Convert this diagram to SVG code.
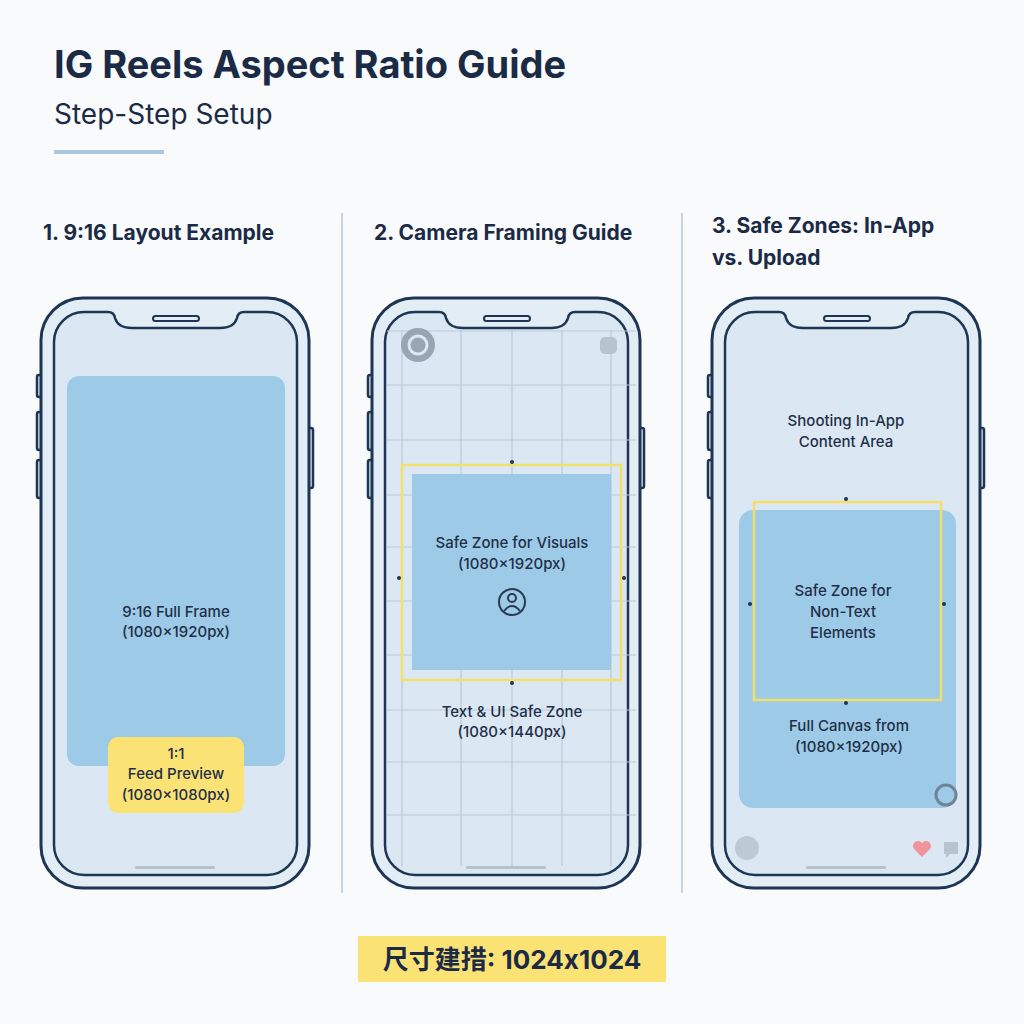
<svg xmlns="http://www.w3.org/2000/svg" xmlns:xlink="http://www.w3.org/1999/xlink" width="1024" height="1024" viewBox="0 0 1024 1024">
<style>
.t{font-family:Inter,"Liberation Sans","Noto Sans CJK SC",sans-serif;fill:#1b2b45}
.lbl{font-family:Inter,"Liberation Sans",sans-serif;font-size:15px;font-weight:500;fill:#1f2f48;text-anchor:middle}
.h{font-size:21px;font-weight:700}
.grid{stroke:#b9cad8;stroke-width:1.2}
.dot{fill:#1e3553}
</style>
<defs>
<g id="phone">
<rect x="37" y="375" width="5" height="22" rx="2" fill="#dce9f4" stroke="#1e3553" stroke-width="2.5"/>
<rect x="37" y="412" width="5" height="38" rx="2" fill="#dce9f4" stroke="#1e3553" stroke-width="2.5"/>
<rect x="37" y="460" width="5" height="38" rx="2" fill="#dce9f4" stroke="#1e3553" stroke-width="2.5"/>
<rect x="308" y="428" width="5" height="60" rx="2" fill="#dce9f4" stroke="#1e3553" stroke-width="2.5"/>
<rect x="41" y="298" width="268" height="590" rx="42" fill="#e3edf6" stroke="#1e3553" stroke-width="3"/>
<path d="M84 312 H108 Q114 312 115 318 Q118 328 132 328 H220 Q234 328 237 318 Q238 312 244 312 H267 A30 30 0 0 1 297 342 V845 A30 30 0 0 1 267 875 H84 A30 30 0 0 1 54 845 V342 A30 30 0 0 1 84 312 Z" fill="#dbe8f3" stroke="#1e3553" stroke-width="2.5"/>
<rect x="153" y="316" width="46" height="5" rx="2.5" fill="none" stroke="#1e3553" stroke-width="2"/>
<rect x="135" y="866" width="80" height="3" rx="1.5" fill="#b4c2cf"/>
</g>
</defs>
<rect width="1024" height="1024" fill="#f8fafc"/>
<text class="t" x="54" y="78" font-size="38" font-weight="700">IG Reels Aspect Ratio Guide</text>
<text class="t" x="54" y="124" font-size="28" font-weight="400" fill="#2a3a52">Step-Step Setup</text>
<rect x="54" y="150" width="110" height="4" fill="#a9c8e0"/>
<g id="dividers" stroke="#b7c9d8" stroke-width="1.5">
<line x1="342" y1="213" x2="342" y2="893"/>
<line x1="682" y1="213" x2="682" y2="893"/>
</g>
<text class="t h" x="43" y="240">1. 9:16 Layout Example</text>
<text class="t h" x="374" y="240">2. Camera Framing Guide</text>
<text class="t h" x="712" y="233">3. Safe Zones: In-App</text>
<text class="t h" x="712" y="265">vs. Upload</text>

<g id="phone1">
<use xlink:href="#phone"/>
<rect x="67" y="376" width="218" height="390" rx="12" fill="#9dcae6"/>
<text class="lbl" x="176" y="617">9:16 Full Frame</text>
<text class="lbl" x="176" y="637">(1080x1920px)</text>
<rect x="108" y="737" width="136" height="76" rx="10" fill="#fbe275"/>
<text class="lbl" x="176" y="759">1:1</text>
<text class="lbl" x="176" y="779">Feed Preview</text>
<text class="lbl" x="176" y="800">(1080x1080px)</text>
</g>

<g id="phone2">
<use xlink:href="#phone" transform="translate(331 0)"/>
<g class="grid">
<line x1="402" y1="330" x2="402" y2="866"/><line x1="461" y1="330" x2="461" y2="866"/><line x1="512" y1="330" x2="512" y2="866"/><line x1="562" y1="330" x2="562" y2="866"/><line x1="611" y1="330" x2="611" y2="866"/>
<line x1="387" y1="331" x2="636" y2="331"/><line x1="387" y1="385" x2="636" y2="385"/><line x1="387" y1="440" x2="636" y2="440"/><line x1="387" y1="495" x2="636" y2="495"/><line x1="387" y1="547" x2="636" y2="547"/><line x1="387" y1="601" x2="636" y2="601"/><line x1="387" y1="655" x2="636" y2="655"/><line x1="387" y1="710" x2="636" y2="710"/><line x1="387" y1="762" x2="636" y2="762"/><line x1="387" y1="815" x2="636" y2="815"/>
</g>
<circle cx="418" cy="345" r="17" fill="#98a6b3"/>
<circle cx="418" cy="345" r="9" fill="none" stroke="#dbe8f3" stroke-width="3"/>
<rect x="600" y="337" width="17" height="17" rx="5" fill="#b7c3cd"/>
<rect x="402" y="465" width="219" height="215" fill="none" stroke="#f4df6a" stroke-width="2.5"/>
<rect x="412" y="474" width="199" height="196" fill="#9dcae6"/>
<circle class="dot" cx="512" cy="462" r="2"/><circle class="dot" cx="399" cy="578" r="2"/><circle class="dot" cx="624" cy="578" r="2"/><circle class="dot" cx="512" cy="683" r="2"/>
<text class="lbl" x="512" y="548">Safe Zone for Visuals</text>
<text class="lbl" x="512" y="569">(1080x1920px)</text>
<circle cx="512" cy="602" r="13" fill="none" stroke="#2a3a52" stroke-width="2"/>
<circle cx="512" cy="598" r="4" fill="none" stroke="#2a3a52" stroke-width="2"/>
<path d="M504 611 Q512 601 520 611" fill="none" stroke="#2a3a52" stroke-width="2"/>
<text class="lbl" x="512" y="717">Text &amp; UI Safe Zone</text>
<text class="lbl" x="512" y="737">(1080x1440px)</text>
</g>

<g id="phone3">
<use xlink:href="#phone" transform="translate(671 0)"/>
<text class="lbl" x="846" y="426">Shooting In-App</text>
<text class="lbl" x="846" y="447">Content Area</text>
<rect x="739" y="510" width="217" height="298" rx="14" fill="#9dcae6"/>
<rect x="754" y="502" width="187" height="198" fill="none" stroke="#f4df6a" stroke-width="2.5"/>
<circle class="dot" cx="846" cy="499" r="2"/><circle class="dot" cx="750" cy="604" r="2"/><circle class="dot" cx="944" cy="604" r="2"/><circle class="dot" cx="846" cy="703" r="2"/>
<text class="lbl" x="843" y="596">Safe Zone for</text>
<text class="lbl" x="843" y="617">Non-Text</text>
<text class="lbl" x="843" y="638">Elements</text>
<text class="lbl" x="849" y="731">Full Canvas from</text>
<text class="lbl" x="849" y="752">(1080x1920px)</text>
<circle cx="946" cy="795" r="10" fill="none" stroke="#6f8496" stroke-width="3"/>
<circle cx="747" cy="848" r="12" fill="#bccad6"/>
<path d="M922 857 L914 849 A5 5 0 0 1 922 843 A5 5 0 0 1 930 849 Z" fill="#f2949b"/>
<path d="M944 842 H958 V854 H950 L946 858 V854 H944 Z" fill="#b7c3cd"/>
</g>

<g id="banner">
<rect x="358" y="936" width="308" height="46" fill="#fbe275"/>
<text class="t" x="512" y="969" font-size="26" font-weight="700" text-anchor="middle">尺寸建措: 1024x1024</text>
</g>
</svg>
